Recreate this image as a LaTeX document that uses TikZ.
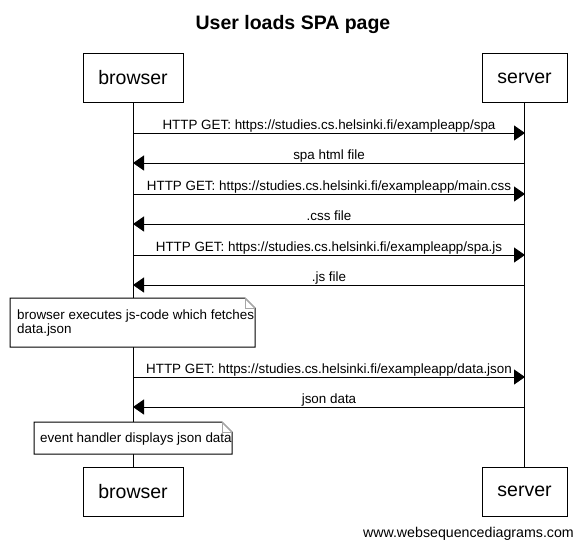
\documentclass[tikz,border=0pt]{standalone}
\usepackage{fontspec}
\setmainfont{Liberation Sans}
\usetikzlibrary{arrows.meta}
\begin{document}
\begin{tikzpicture}[x=1pt,y=-1pt,
  actor/.style={draw=black,line width=1pt,fill=white,minimum width=100pt,minimum height=49pt,inner sep=0pt,font=\fontsize{19.5}{22}\selectfont},
  lifeline/.style={draw=black,line width=1pt},
  msg/.style={draw=black,line width=1pt,-{Triangle[length=11pt,width=15pt]}},
  lbl/.style={anchor=base,yshift=4pt,inner sep=0pt,font=\fontsize{13.4}{15}\selectfont},
  notebox/.style={draw=black,line width=1pt,fill=white},
  notefold/.style={draw=gray!70,line width=1pt},
  notetext/.style={anchor=base west,inner sep=0pt,font=\fontsize{13.4}{15}\selectfont}]
\useasboundingbox (0,0) rectangle (583,550);
\fill[white] (0,0) rectangle (583,550);
% title
\node[anchor=base,inner sep=0pt,font=\fontsize{19.5}{22}\bfseries\selectfont] (title) at (293,29) {User loads SPA page};
% participants
\node[actor] (bt) at (133,77.5) {browser};
\node[actor,minimum width=85pt] (st) at (524.5,78) {server};
\node[actor] (bb) at (133,491.5) {browser};
\node[actor,minimum width=85pt] (sb) at (524.5,491.5) {server};
% lifelines
\draw[lifeline] (bt.south) -- (bb.north);
\draw[lifeline] (st.south) -- (sb.north);
% message anchors
\foreach \i/\y in {1/133,2/163,3/194,4/224,5/255,6/285,7/377,8/407}{
  \coordinate (b\i) at (133,\y);
  \coordinate (s\i) at (525,\y);
}
\draw[msg] (b1) -- node[lbl]{HTTP GET: https://studies.cs.helsinki.fi/exampleapp/spa} (s1);
\draw[msg] (s2) -- node[lbl]{spa html file} (b2);
\draw[msg] (b3) -- node[lbl]{HTTP GET: https://studies.cs.helsinki.fi/exampleapp/main.css} (s3);
\draw[msg] (s4) -- node[lbl]{.css file} (b4);
\draw[msg] (b5) -- node[lbl]{HTTP GET: https://studies.cs.helsinki.fi/exampleapp/spa.js} (s5);
\draw[msg] (s6) -- node[lbl]{.js file} (b6);
\draw[msg] (b7) -- node[lbl]{HTTP GET: https://studies.cs.helsinki.fi/exampleapp/data.json} (s7);
\draw[msg] (s8) -- node[lbl]{json data} (b8);
% note 1
\path[notebox] (10,298) -- (245,298) -- (255,308) -- (255,347) -- (10,347) -- cycle;
\draw[notefold] (245,298) -- (245,308) -- (255,308);
\draw[notefold] (245,298) -- (255,308);
\node[notetext] (n1a) at (17,319) {browser executes js-code which fetches};
\node[notetext] (n1b) at (17,333) {data.json};
% note 2
\path[notebox] (34,422) -- (222,422) -- (232,432) -- (232,454) -- (34,454) -- cycle;
\draw[notefold] (222,422) -- (222,432) -- (232,432);
\draw[notefold] (222,422) -- (232,432);
\node[notetext] (n2) at (40,442) {event handler displays json data};
% footer
\node[anchor=base east,inner sep=0pt,font=\fontsize{14.2}{16}\selectfont] (footer) at (574,537.5) {www.websequencediagrams.com};
\end{tikzpicture}
\end{document}
